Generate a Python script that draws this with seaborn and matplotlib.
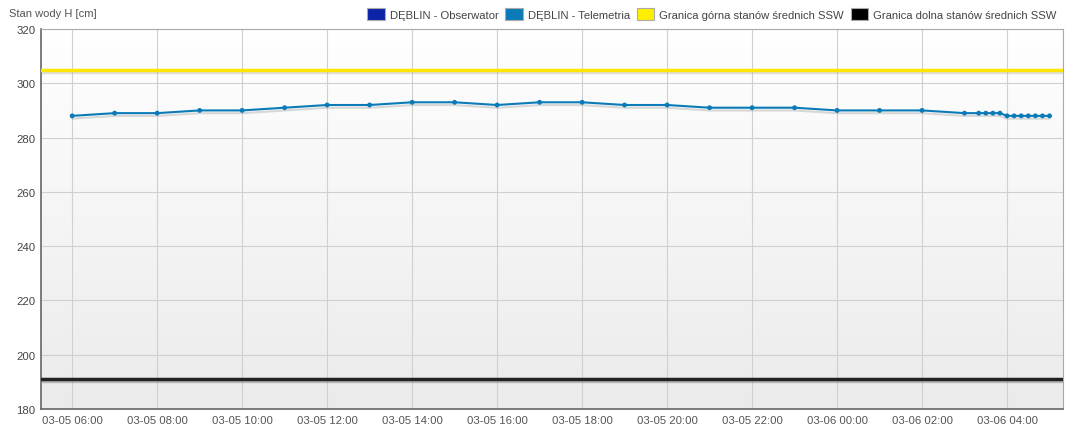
import numpy as np
import pandas as pd
import matplotlib
matplotlib.use("Agg")
import matplotlib.pyplot as plt
import matplotlib.dates as mdates
import matplotlib.patheffects as pe
from matplotlib.patches import Patch
from matplotlib.colors import LinearSegmentedColormap
import seaborn as sns

# ---- data ----
times = (
    [f"2024-03-05 {h:02d}:00" for h in range(6, 24)]
    + [f"2024-03-06 {h:02d}:00" for h in range(0, 4)]
    + ["2024-03-06 03:20", "2024-03-06 03:30", "2024-03-06 03:40", "2024-03-06 03:50",
       "2024-03-06 04:00", "2024-03-06 04:10", "2024-03-06 04:20", "2024-03-06 04:30",
       "2024-03-06 04:40", "2024-03-06 04:50", "2024-03-06 05:00"]
)
levels = [288, 289, 289, 290, 290, 291, 292, 292, 293, 293, 292, 293, 293, 292,
          292, 291, 291, 291, 290, 290, 290, 289,
          289, 289, 289, 289,
          288, 288, 288, 288, 288, 288, 288]
upper_ssw = 305
lower_ssw = 191
y_ticks = [180, 200, 220, 240, 260, 280, 300, 320]
legend_labels = ["DĘBLIN - Obserwator", "DĘBLIN - Telemetria",
                 "Granica górna stanów średnich SSW", "Granica dolna stanów średnich SSW"]
legend_colors = ["#0a23a8", "#0a7bb8", "#ffee00", "#000000"]

df = pd.DataFrame({"time": pd.to_datetime(times), "level": levels})

sns.set_theme(style="white")
plt.rcParams["font.family"] = ["Liberation Sans", "DejaVu Sans"]

fig = plt.figure(figsize=(10.67, 4.27), dpi=100)
ax = fig.add_axes([41 / 1067, 17 / 427, (1063 - 41) / 1067, (410 - 30) / 427])

# gradient background
grad = np.linspace(1, 0, 256).reshape(-1, 1)
cmap = LinearSegmentedColormap.from_list("bg", ["#ebebeb", "#ffffff"])
ax.imshow(grad, extent=[0, 1, 0, 1], transform=ax.transAxes, aspect="auto",
          cmap=cmap, zorder=0, origin="upper", vmin=0, vmax=1)

x0 = pd.Timestamp("2024-03-05 05:16")
x1 = pd.Timestamp("2024-03-06 05:19")

# SSW lines
ax.axhline(upper_ssw, color="#ffe600", lw=2.5, zorder=3,
           path_effects=[pe.SimpleLineShadow(offset=(0, -1.5), shadow_color="#999999", alpha=0.3), pe.Normal()])
ax.axhline(lower_ssw, color="#222222", lw=2.5, zorder=3,
           path_effects=[pe.SimpleLineShadow(offset=(0, -1.5), shadow_color="#888888", alpha=0.5), pe.Normal()])

sns.lineplot(data=df, x="time", y="level", ax=ax, color="#0a7bb8", lw=1.5,
             marker="o", markersize=3.5, markeredgewidth=0, zorder=4,
             path_effects=[pe.SimpleLineShadow(offset=(0, -2), shadow_color="#888888", alpha=0.3), pe.Normal()])

ax.set_xlim(x0, x1)
ax.set_ylim(180, 320)
ax.set_yticks(y_ticks)
ax.xaxis.set_major_locator(mdates.HourLocator(byhour=range(0, 24, 2)))
ax.xaxis.set_major_formatter(mdates.DateFormatter("%m-%d %H:%M"))
ax.grid(True, color="#d0d0d0", lw=0.8, zorder=1)
ax.set_axisbelow(True)
ax.set_xlabel("")
ax.set_ylabel("")
ax.tick_params(axis="both", labelsize=8.2, colors="#444444", length=0, pad=4)
for lbl in ax.get_xticklabels():
    lbl.set_color("#555555")

for side in ["top", "right"]:
    ax.spines[side].set_color("#aaaaaa")
    ax.spines[side].set_linewidth(0.8)
for side in ["left", "bottom"]:
    ax.spines[side].set_color("#666666")
    ax.spines[side].set_linewidth(1.2)

fig.text(9 / 1067, 1 - 14 / 427, "Stan wody H [cm]", fontsize=8, color="#555555", va="center")

handles = [Patch(facecolor=c, edgecolor="#aaaaaa", lw=0.8) for c in legend_colors]
fig.legend(handles, legend_labels, loc="center right", bbox_to_anchor=(1061 / 1067, 1 - 15 / 427),
           ncol=4, frameon=False, fontsize=8.1, handlelength=1.55, handleheight=1.2,
           handletextpad=0.45, columnspacing=0.6, borderaxespad=0, labelcolor="#444444")

fig.savefig("out.png", dpi=100)
